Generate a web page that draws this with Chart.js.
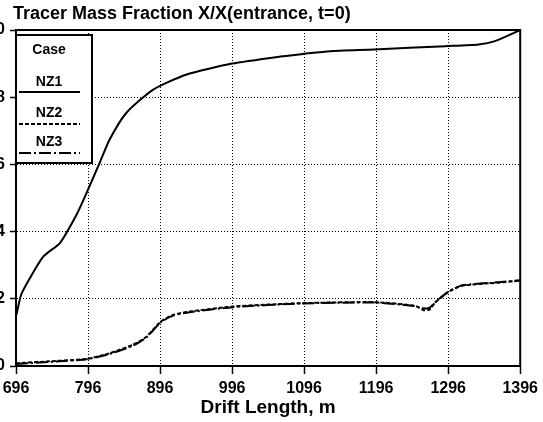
<!DOCTYPE html>
<html>
<head>
<meta charset="utf-8">
<script src="https://cdn.jsdelivr.net/npm/chart.js@4/dist/chart.umd.min.js"></script>
<style>
  html, body { margin: 0; padding: 0; background: #fff; overflow: hidden; }
  #wrap { position: relative; width: 543px; height: 422px; overflow: hidden; }
  /* canvas is a bit wider than the window so the y tick labels get clipped like in the scan */
  #tracerChart { position: absolute; left: -37px; top: 0; }
</style>
</head>
<body>
<div id="wrap"><canvas id="tracerChart" width="580" height="422"></canvas></div>
<script>
// Drift length (m) and tracer mass fraction
const nz1Length   = [696, 697, 704, 734, 757, 780, 794, 812, 826, 849, 886, 932, 996, 1063, 1096, 1132, 1193, 1292, 1338, 1361, 1396];
const nz1Fraction = [0.15, 0.157, 0.217, 0.326, 0.366, 0.45, 0.515, 0.604, 0.674, 0.753, 0.822, 0.867, 0.90, 0.921, 0.929, 0.937, 0.942, 0.952, 0.957, 0.967, 1.0];

const nz2Length   = [696, 743, 794, 826, 858, 877, 897, 914, 937, 997, 1093, 1195, 1250, 1262, 1270, 1278, 1296, 1315, 1365, 1396];
const nz2Fraction = [0.008, 0.014, 0.021, 0.038, 0.063, 0.087, 0.132, 0.152, 0.162, 0.177, 0.187, 0.19, 0.179, 0.166, 0.168, 0.189, 0.22, 0.239, 0.248, 0.254];

const nz3Length   = [696, 743, 794, 826, 858, 877, 897, 914, 937, 997, 1093, 1195, 1250, 1262, 1270, 1278, 1296, 1315, 1365, 1396];
const nz3Fraction = [0.006, 0.012, 0.02, 0.036, 0.06, 0.085, 0.13, 0.15, 0.16, 0.175, 0.186, 0.189, 0.178, 0.172, 0.173, 0.19, 0.221, 0.24, 0.249, 0.255];

const xTicks = [696, 796, 896, 996, 1096, 1196, 1296, 1396];
const yTicks = [0, 0.2, 0.4, 0.6, 0.8, 1.0];
const caseNames = ['NZ1', 'NZ2', 'NZ3'];

const chartTitle = 'Tracer Mass Fraction X/X(entrance, t=0)';
const xTitle = 'Drift Length, m';

function toPoints(xs, ys) {
    return xs.map((x, i) => ({ x: x, y: ys[i] }));
}

Chart.defaults.font.family = '"Liberation Sans", Arial, sans-serif';
Chart.defaults.color = '#000';

const lineStyle = {
    borderColor: '#000',
    borderWidth: 2,
    pointRadius: 0,
    fill: false,
    tension: 0.2
};

const dashes = [[], [4, 2], [12, 3, 2, 3]];

// frame, title and the boxed legend of the original figure
const decorations = {
    id: 'decorations',
    afterDatasetsDraw(chart) {
        const ctx = chart.ctx;
        const { left, top, right, bottom } = chart.chartArea;
        ctx.save();

        // frame round the plot
        ctx.strokeStyle = '#000';
        ctx.lineWidth = 2;
        ctx.setLineDash([]);
        ctx.strokeRect(left, top, right - left, bottom - top);

        // title
        ctx.fillStyle = '#000';
        ctx.font = 'bold 18px "Liberation Sans", Arial, sans-serif';
        ctx.textAlign = 'left';
        ctx.textBaseline = 'alphabetic';
        ctx.fillText(chartTitle, left - 3, top - 11);

        // legend box
        const bx = left, by = top + 5, bw = 76, bh = 128;
        ctx.fillStyle = '#fff';
        ctx.fillRect(bx, by, bw, bh);
        ctx.strokeRect(bx, by, bw, bh);

        ctx.fillStyle = '#000';
        ctx.font = 'bold 14px "Liberation Sans", Arial, sans-serif';
        ctx.textAlign = 'center';
        ctx.textBaseline = 'middle';
        const cx = left + 33;
        ctx.fillText('Case', cx, top + 20);
        const textY = [52, 83, 112];
        const lineY = [62, 94, 123];
        caseNames.forEach((name, i) => {
            ctx.fillText(name, cx, top + textY[i]);
            ctx.beginPath();
            ctx.setLineDash(dashes[i]);
            ctx.lineWidth = 2;
            ctx.moveTo(left + 3, top + lineY[i]);
            ctx.lineTo(left + 64, top + lineY[i]);
            ctx.stroke();
        });
        ctx.restore();
    }
};

const ctx = document.getElementById('tracerChart').getContext('2d');
new Chart(ctx, {
    type: 'line',
    data: {
        datasets: [
            Object.assign({ label: caseNames[0], data: toPoints(nz1Length, nz1Fraction), borderDash: dashes[0] }, lineStyle),
            Object.assign({ label: caseNames[1], data: toPoints(nz2Length, nz2Fraction), borderDash: dashes[1] }, lineStyle),
            Object.assign({ label: caseNames[2], data: toPoints(nz3Length, nz3Fraction), borderDash: dashes[2] }, lineStyle)
        ]
    },
    options: {
        responsive: false,
        animation: false,
        layout: { padding: { top: 30, right: 21, left: 0, bottom: 0 } },
        plugins: {
            legend: { display: false },
            title: { display: false },
            tooltip: { enabled: false }
        },
        scales: {
            x: {
                type: 'linear',
                min: xTicks[0],
                max: xTicks[xTicks.length - 1],
                afterBuildTicks(scale) {
                    scale.ticks = xTicks.map(v => ({ value: v }));
                },
                afterFit(scale) { scale.height = 56; },
                ticks: {
                    padding: 5,
                    maxRotation: 0,
                    autoSkip: false,
                    font: { size: 16, weight: 'bold' },
                    callback: v => String(v)
                },
                grid: {
                    color: '#000',
                    lineWidth: 1,
                    tickLength: 8,
                    tickWidth: 1.5,
                    tickColor: '#000',
                    tickBorderDash: []
                },
                border: { display: true, color: '#000', width: 2, dash: [1, 2] },
                title: {
                    display: true,
                    text: xTitle,
                    font: { size: 19, weight: 'bold' },
                    padding: { top: 0, bottom: 3 }
                }
            },
            y: {
                min: 0,
                max: 1,
                afterBuildTicks(scale) {
                    scale.ticks = yTicks.map(v => ({ value: v }));
                },
                afterFit(scale) { scale.width = 53; },
                ticks: {
                    padding: 5,
                    autoSkip: false,
                    font: { size: 16, weight: 'bold' },
                    callback: v => Number(v).toFixed(1)
                },
                grid: {
                    color: '#000',
                    lineWidth: 1,
                    tickLength: 6,
                    tickWidth: 1.5,
                    tickColor: '#000',
                    tickBorderDash: []
                },
                border: { display: true, color: '#000', width: 2, dash: [1, 2] }
            }
        }
    },
    plugins: [decorations]
});
</script>
</body>
</html>
